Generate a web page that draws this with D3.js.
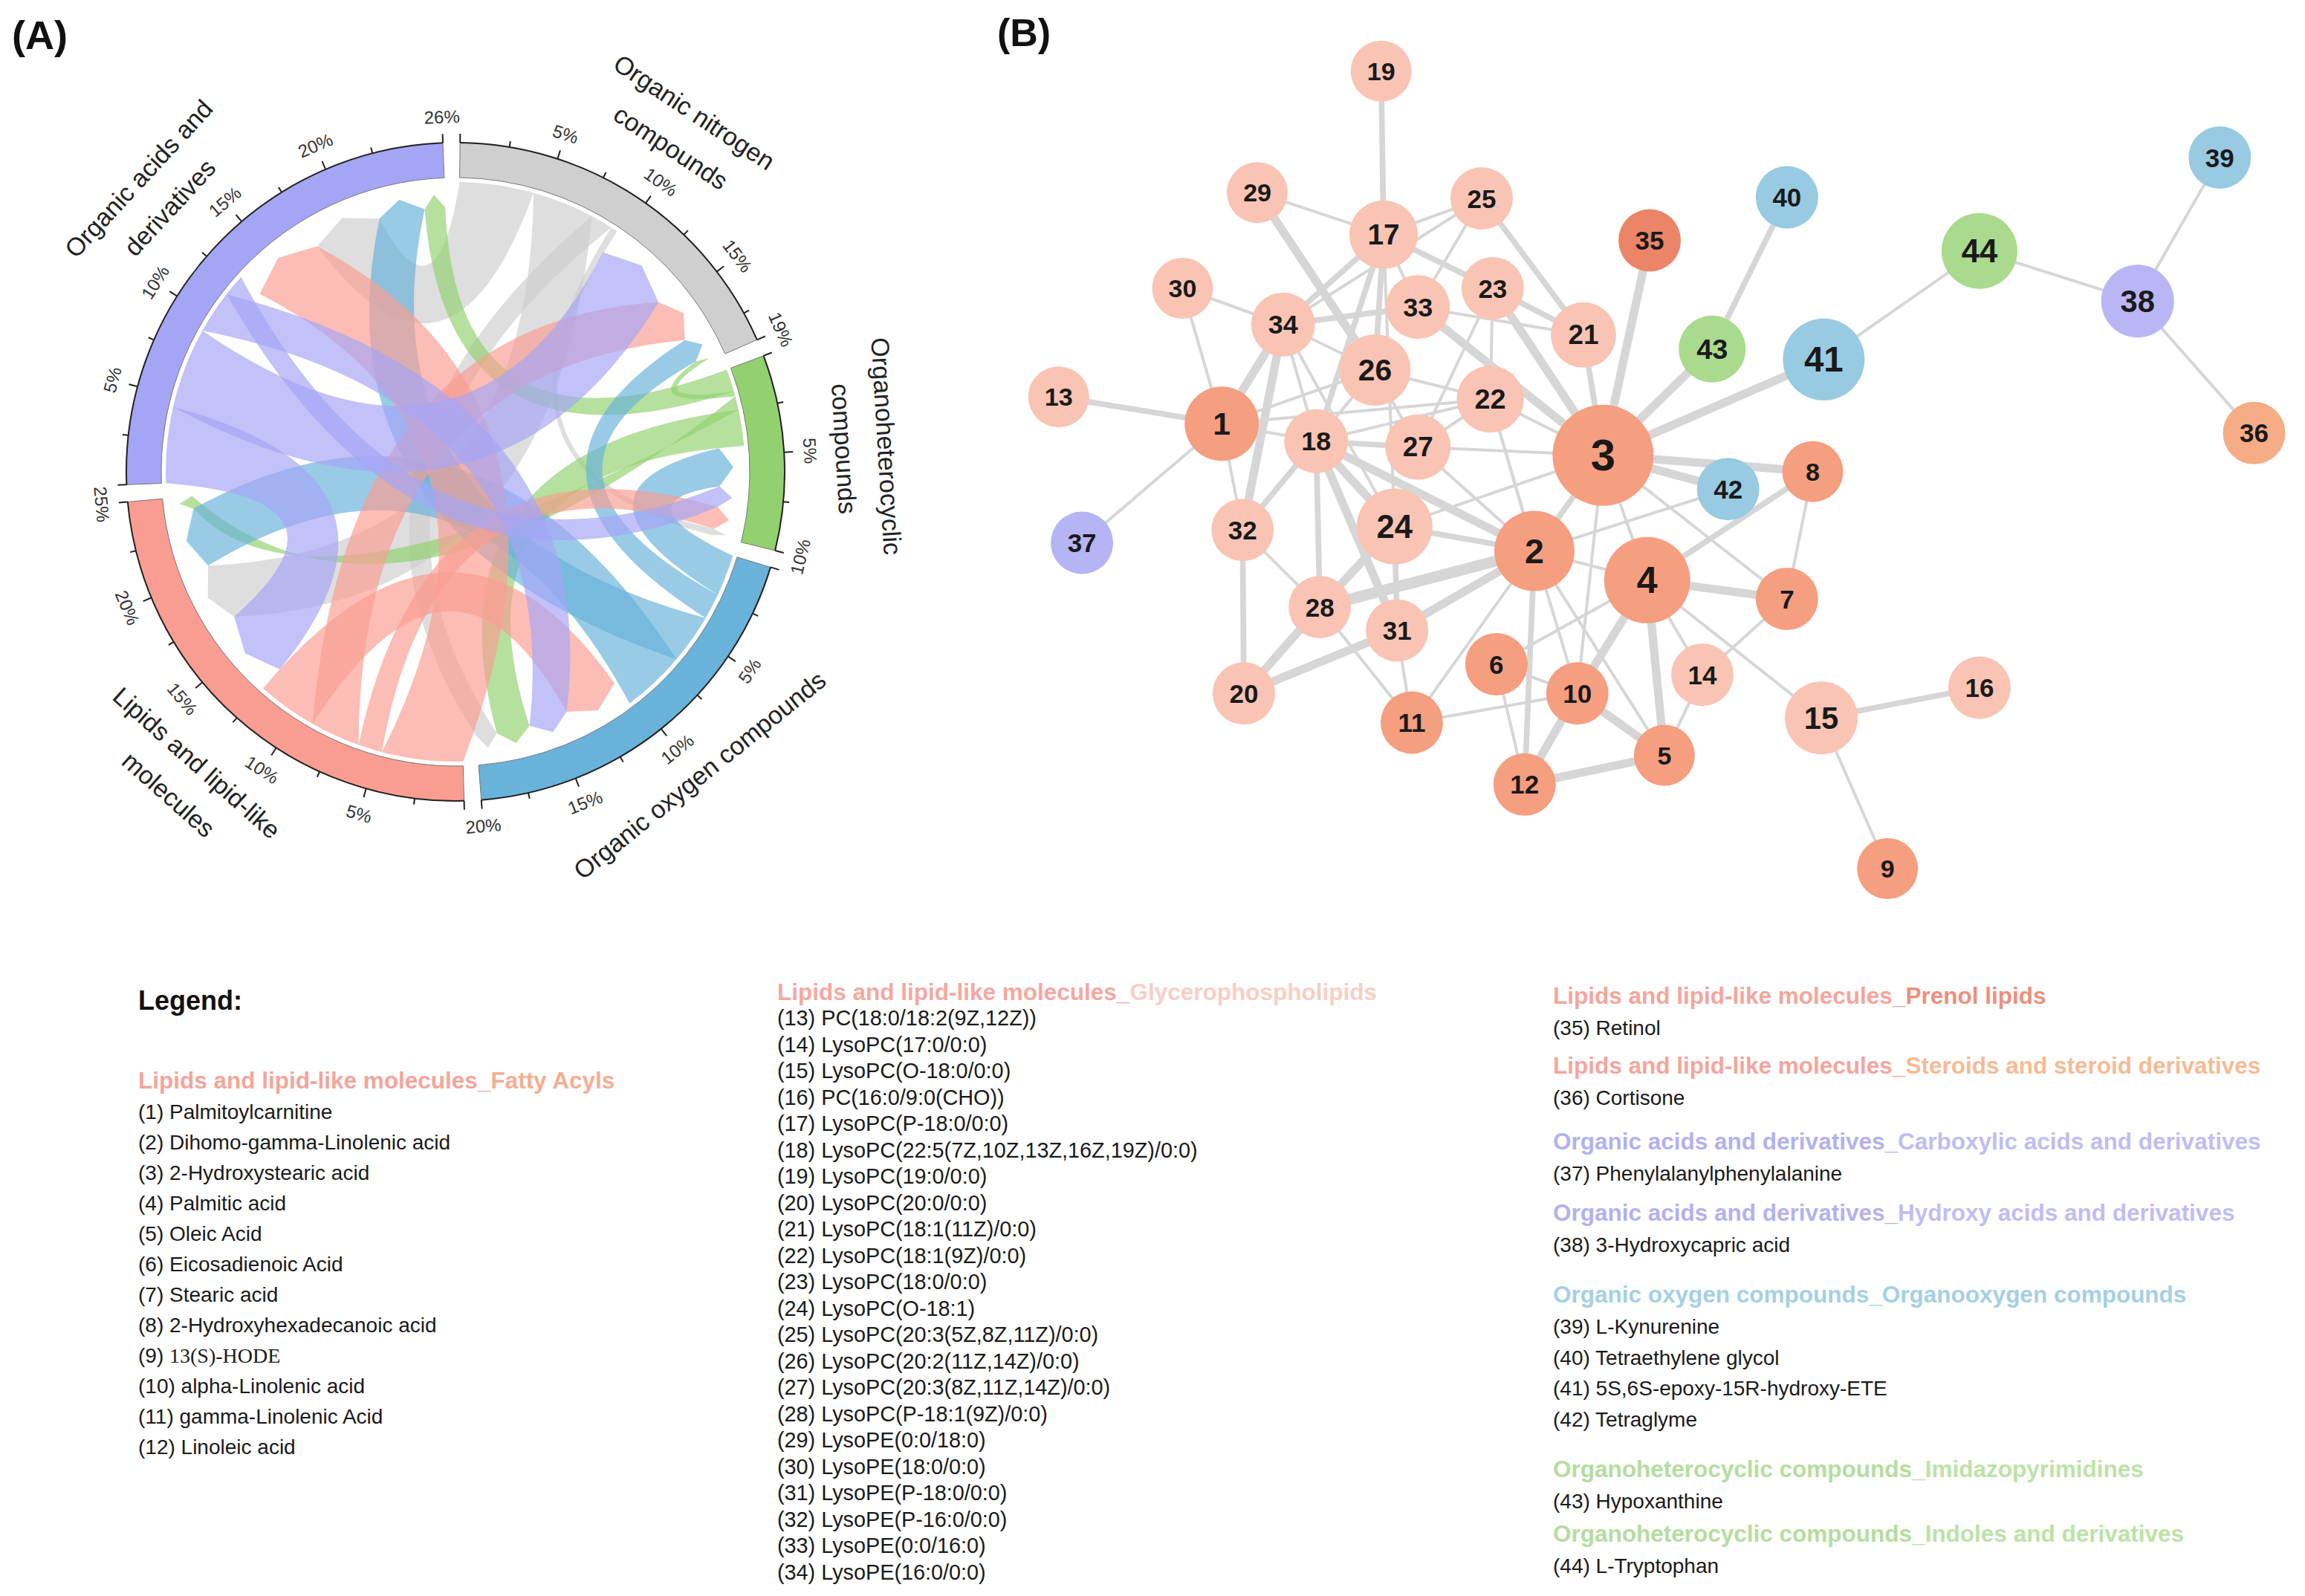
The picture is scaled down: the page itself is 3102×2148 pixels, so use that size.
<!DOCTYPE html>
<html>
<head>
<meta charset="utf-8">
<script src="https://cdn.jsdelivr.net/npm/d3@7/dist/d3.min.js"></script>
<style>
html,body{margin:0;padding:0;background:#ffffff;}
svg{display:block;}
</style>
</head>
<body>
<svg id="fig" width="3102" height="2148" xmlns="http://www.w3.org/2000/svg"></svg>
<script>
// ================= DATA =================
// ---- (A) chord diagram ----
const groupKeys = ["N", "H", "O", "L", "A"];
const groupLabelLines = [
  ["Organic nitrogen", "compounds"],
  ["Organoheterocyclic", "compounds"],
  ["Organic oxygen compounds"],
  ["Lipids and lipid-like", "molecules"],
  ["Organic acids and", "derivatives"]
];
const groupColors = ["#cfcfcf", "#92d16e", "#69b2da", "#f99d92", "#a5a5f6"];
// [source, target, percent]; listed in the order the ribbons leave each sector
const chordLinks = [
  ["N", "A", 4.3], ["N", "L", 3.6], ["N", "O", 1.3], ["N", "H", 0.4],
  ["H", "A", 1.3], ["H", "N", 0.3], ["H", "L", 0.8], ["H", "O", 2.1],
  ["O", "H", 2.4], ["O", "N", 1.5], ["O", "A", 2.9], ["O", "L", 3.7],
  ["L", "A", 4.7], ["L", "H", 1.4], ["L", "N", 2.9], ["L", "O", 3.5],
  ["A", "L", 4.4], ["A", "N", 4.7], ["A", "O", 2.5], ["A", "H", 1.3]
];
// order in which incoming ribbons land on each sector
const incomingOrder = {
  N: ["A", "L", "O", "H"],
  H: ["O", "A", "L", "N"],
  O: ["L", "A", "H", "N"],
  L: ["A", "N", "O", "H"],
  A: ["L", "N", "O", "H"]
};
const majorStep = 5, minorStep = 2.5;

// ---- (B) network ----
const nodeIds = d3.range(1, 45);
const nodeClass = [
  "FA","FA","FA","FA","FA","FA","FA","FA","FA","FA","FA","FA",
  "GP","GP","GP","GP","GP","GP","GP","GP","GP","GP","GP","GP","GP","GP","GP","GP","GP","GP","GP","GP","GP","GP",
  "PR","ST","CA","HA","OO","OO","OO","OO","IM","IN"
];
const nodeLayoutX = [14.8,40.3,45.9,49.5,50.9,37.2,60.9,63.0,69.1,43.8,30.3,39.5,1.5,54.0,63.7,76.6,28.0,22.5,27.8,16.6,44.3,36.7,36.9,28.9,36.0,27.3,30.8,22.8,17.7,11.6,29.1,16.5,30.8,19.8,49.7,99.0,3.4,89.5,96.2,60.9,63.9,56.1,54.8,76.6];
const nodeLayoutY = [31.2,42.1,33.9,44.6,59.6,51.8,46.2,35.3,69.3,54.3,56.8,62.1,28.9,52.7,56.4,53.8,15.0,32.7,1.0,54.3,23.6,29.1,19.6,40.0,11.9,26.6,33.2,46.9,11.4,19.6,48.9,40.3,21.2,22.7,15.5,32.0,41.4,20.7,8.4,11.8,25.7,36.8,24.8,16.4];
const nodeScore = [9,13,27,17,0,1,1,0,0,1,1,1,0,1,8,1,5,2,0,1,3,4,1,10,1,7,3,1,0,0,1,1,2,2,1,1,1,8,1,1,14,1,4,10];
// [node, node, weight]
const edges = [
  [19,17,2],[29,17,1],[29,26,3],[17,25,1],[17,34,2],[17,33,1],[17,26,2],[17,18,2],[17,23,2],[17,24,1],
  [25,34,1],[25,21,2],[25,33,1],[33,3,3],[23,3,3],[23,21,2],[23,22,1],[23,27,1],[21,3,2],[35,3,3],
  [40,43,2],[43,3,3],[41,3,3],[41,44,1],[44,38,1],[38,39,1],[38,36,1],[3,42,3],[3,8,3],[42,2,1],
  [8,4,2],[8,7,1],[3,7,1],[3,4,1],[3,2,2],[3,24,1],[3,27,1],[3,22,1],[4,7,3],[4,5,3],
  [4,10,3],[4,14,1],[4,15,1],[4,6,1],[4,2,1],[7,14,1],[14,5,1],[15,16,2],[15,9,1],[2,24,2],
  [2,28,4],[2,31,3],[2,18,3],[2,10,1],[2,12,2],[2,5,1],[2,11,1],[2,22,1],[10,12,3],[10,5,3],
  [10,11,1],[6,12,1],[6,10,1],[12,5,3],[11,31,1],[11,28,1],[31,20,3],[28,20,3],[32,20,2],[32,28,1],
  [32,1,1],[32,34,3],[32,18,2],[1,13,2],[1,37,1],[1,30,1],[1,34,3],[1,18,1],[1,22,1],[1,26,1],
  [30,34,1],[34,26,1],[34,33,2],[34,18,1],[34,24,1],[18,24,3],[18,28,2],[18,31,3],[18,27,2],[18,26,1],
  [18,22,1],[26,22,1],[26,27,1],[24,28,3],[24,31,2],[27,22,1],[27,2,1],[22,2,1],[33,21,1],[3,10,1]
];

// ---- legend ----
const compoundNames = [
  "Palmitoylcarnitine","Dihomo-gamma-Linolenic acid","2-Hydroxystearic acid","Palmitic acid","Oleic Acid",
  "Eicosadienoic Acid","Stearic acid","2-Hydroxyhexadecanoic acid","13(S)-HODE","alpha-Linolenic acid",
  "gamma-Linolenic Acid","Linoleic acid","PC(18:0/18:2(9Z,12Z))","LysoPC(17:0/0:0)","LysoPC(O-18:0/0:0)",
  "PC(16:0/9:0(CHO))","LysoPC(P-18:0/0:0)","LysoPC(22:5(7Z,10Z,13Z,16Z,19Z)/0:0)","LysoPC(19:0/0:0)","LysoPC(20:0/0:0)",
  "LysoPC(18:1(11Z)/0:0)","LysoPC(18:1(9Z)/0:0)","LysoPC(18:0/0:0)","LysoPC(O-18:1)","LysoPC(20:3(5Z,8Z,11Z)/0:0)",
  "LysoPC(20:2(11Z,14Z)/0:0)","LysoPC(20:3(8Z,11Z,14Z)/0:0)","LysoPC(P-18:1(9Z)/0:0)","LysoPE(0:0/18:0)","LysoPE(18:0/0:0)",
  "LysoPE(P-18:0/0:0)","LysoPE(P-16:0/0:0)","LysoPE(0:0/16:0)","LysoPE(16:0/0:0)","Retinol",
  "Cortisone","Phenylalanylphenylalanine","3-Hydroxycapric acid","L-Kynurenine","Tetraethylene glycol",
  "5S,6S-epoxy-15R-hydroxy-ETE","Tetraglyme","Hypoxanthine","L-Tryptophan"
];
const serifNames = [9];
const classKeys = ["FA","GP","PR","ST","CA","HA","OO","IM","IN"];
const classSuper = ["Lipids and lipid-like molecules_","Lipids and lipid-like molecules_","Lipids and lipid-like molecules_","Lipids and lipid-like molecules_","Organic acids and derivatives_","Organic acids and derivatives_","Organic oxygen compounds_","Organoheterocyclic compounds_","Organoheterocyclic compounds_"];
const classSub = ["Fatty Acyls","Glycerophospholipids","Prenol lipids","Steroids and steroid derivatives","Carboxylic acids and derivatives","Hydroxy acids and derivatives","Organooxygen compounds","Imidazopyrimidines","Indoles and derivatives"];
const classSuperColor = ["#f4a59c","#f4a8a0","#f4a59c","#f4a59c","#b3b1f1","#b3b1f1","#a5d0e5","#b5dd9f","#b5dd9f"];
const classSubColor = ["#f5ad93","#f9cec5","#ee8f7c","#f6bb94","#bfbdf4","#bfbdf4","#a5d0e5","#bde2a8","#bde2a8"];
const classNodeColor = ["#f59e80","#f9c4b3","#ec8468","#f6ac84","#b5b4f5","#bab6f6","#98cae2","#a9da8e","#a9da8e"];
const legendColumns = [["FA"], ["GP"], ["PR","ST","CA","HA","OO","IM","IN"]];

// ================= DRAW =================
const svg = d3.select("#fig");
const FONT = "'Liberation Sans', Arial, Helvetica, sans-serif";
svg.append("rect").attr("width", 3102).attr("height", 2148).attr("fill", "#fff");

// panel labels
svg.append("text").attr("x", 16).attr("y", 66).attr("font-family", FONT).attr("font-weight", "bold")
  .attr("font-size", 54).attr("fill", "#111").text("(A)");
svg.append("text").attr("x", 1342).attr("y", 62).attr("font-family", FONT).attr("font-weight", "bold")
  .attr("font-size", 52).attr("fill", "#111").text("(B)");

// ---------- (A) chord ----------
(function drawChord() {
  const cx = 613, cy = 635;
  const R = {out: 443, inn: 396, link: 390, tgt: 356, tip: 374};
  const gapDeg = 3, startDeg = 0.8;
  const g = svg.append("g").attr("transform", `translate(${cx},${cy})`);

  const totalsRaw = groupKeys.map(k => d3.sum(chordLinks.filter(l => l[0] === k || l[1] === k), l => l[2]));
  const grand = d3.sum(totalsRaw);
  const pct = v => v / grand * 100;
  const totals = totalsRaw.map(pct);
  const degPer = (360 - gapDeg * groupKeys.length) / 100;
  let acc = startDeg;
  const sectors = groupKeys.map((k, i) => {
    const s = acc, e = acc + totals[i] * degPer;
    acc = e + gapDeg;
    return {key: k, i, total: totals[i], startDeg: s, endDeg: e,
      scale: d3.scaleLinear().domain([0, totals[i]]).range([s * Math.PI / 180, e * Math.PI / 180])};
  });

  // positions of link ends
  const links = chordLinks.map(l => ({src: l[0], tgt: l[1], v: pct(l[2])}));
  sectors.forEach(sec => {
    let cur = 0;
    links.filter(l => l.src === sec.key).forEach(l => { l.s0 = sec.scale(cur); cur += l.v; l.s1 = sec.scale(cur); });
    incomingOrder[sec.key].forEach(from => {
      const l = links.find(d => d.src === from && d.tgt === sec.key);
      if (!l) return;
      l.t0 = sec.scale(cur); cur += l.v; l.t1 = sec.scale(cur);
    });
  });

  const pt = (a, r) => [r * Math.sin(a), -r * Math.cos(a)];
  function ctrl(p, q) {
    const mx = (p[0] + q[0]) / 2, my = (p[1] + q[1]) / 2;
    const chord = Math.hypot(p[0] - q[0], p[1] - q[1]);
    const h = 160 * (1 - Math.exp(-chord / 150));
    const m = Math.hypot(mx, my);
    let ux, uy;
    if (m < 1e-6) { ux = -(q[1] - p[1]) / chord; uy = (q[0] - p[0]) / chord; }
    else { ux = mx / m; uy = my / m; }
    return [mx - 2 * h * ux, my - 2 * h * uy];
  }
  function linkPath(l) {
    const p = d3.path();
    const a = pt(l.s0, R.link), b = pt(l.s1, R.link);
    const c = pt(l.t0, R.tgt), d = pt(l.t1, R.tgt), tip = pt((l.t0 + l.t1) / 2, R.tip);
    p.moveTo(a[0], a[1]);
    p.arc(0, 0, R.link, l.s0 - Math.PI / 2, l.s1 - Math.PI / 2, false);
    const c1 = ctrl(b, c);
    p.quadraticCurveTo(c1[0], c1[1], c[0], c[1]);
    p.lineTo(tip[0], tip[1]);
    p.lineTo(d[0], d[1]);
    const c2 = ctrl(d, a);
    p.quadraticCurveTo(c2[0], c2[1], a[0], a[1]);
    p.closePath();
    return p.toString();
  }
  const colorOf = k => groupColors[groupKeys.indexOf(k)];
  g.append("g").selectAll("path").data(links).join("path")
    .attr("d", linkPath)
    .attr("fill", d => colorOf(d.src))
    .attr("fill-opacity", 0.68)
    .attr("stroke", "none");

  // ring
  const arc = d3.arc().innerRadius(R.inn).outerRadius(R.out);
  g.append("g").selectAll("path").data(sectors).join("path")
    .attr("d", s => arc({startAngle: s.scale(0), endAngle: s.scale(s.total)}))
    .attr("fill", s => groupColors[s.i])
    .attr("stroke", "#777").attr("stroke-width", 1);

  // axis
  const ax = g.append("g");
  const rotFor = deg => { const d = ((deg % 360) + 360) % 360; return (d <= 90 || d >= 270) ? d : d - 180; };
  sectors.forEach(sec => {
    const p = d3.path();
    const a0 = sec.scale(0), a1 = sec.scale(sec.total);
    const s0 = pt(a0, R.out);
    p.moveTo(s0[0], s0[1]);
    p.arc(0, 0, R.out, a0 - Math.PI / 2, a1 - Math.PI / 2, false);
    ax.append("path").attr("d", p.toString()).attr("fill", "none").attr("stroke", "#222").attr("stroke-width", 2);
    const ticks = [];
    for (let v = 0; v < sec.total - 1.5; v += minorStep) ticks.push({v, major: v % majorStep === 0, label: v > 0 && v % majorStep === 0 ? `${v}%` : null});
    ticks.push({v: sec.total, major: true, label: `${Math.round(sec.total)}%`});
    ticks.forEach(t => {
      const a = sec.scale(t.v);
      const p1 = pt(a, R.out), p2 = pt(a, R.out + (t.major ? 12 : 8));
      ax.append("line").attr("x1", p1[0]).attr("y1", p1[1]).attr("x2", p2[0]).attr("y2", p2[1])
        .attr("stroke", "#222").attr("stroke-width", 2);
      if (t.label) {
        const q = pt(a, 478);
        ax.append("text").attr("transform", `translate(${q[0]},${q[1]}) rotate(${rotFor(a * 180 / Math.PI)})`)
          .attr("text-anchor", "middle").attr("dominant-baseline", "central")
          .attr("font-family", FONT).attr("font-size", 24).attr("fill", "#333").text(t.label);
      }
    });
    // group label
    const mid = (sec.startDeg + sec.endDeg) / 2;
    const lines = groupLabelLines[sec.i];
    const top = (((mid % 360) + 360) % 360) <= 90 || mid >= 270;
    lines.forEach((txt, i) => {
      const r = top ? 524 + (lines.length - 1 - i) * 57 : 524 + i * 57;
      const q = pt(mid * Math.PI / 180, r);
      ax.append("text").attr("transform", `translate(${q[0]},${q[1]}) rotate(${rotFor(mid)})`)
        .attr("text-anchor", "middle").attr("dominant-baseline", "central")
        .attr("font-family", FONT).attr("font-size", 34).attr("fill", "#222").text(txt);
    });
  });
})();

// ---------- (B) network ----------
(function drawNetwork() {
  const x = d3.scaleLinear().domain([0, 100]).range([1400, 3050]);
  const y = d3.scaleLinear().domain([0, 70]).range([80, 1180]);
  const rScale = d3.scaleLinear().domain([0, 27]).range([41, 68]);
  const fScale = d3.scaleLinear().domain([41, 68]).range([34, 60]);
  const wScale = d3.scaleLinear().domain([1, 4]).range([4, 15]);
  const nodes = nodeIds.map((id, i) => ({id, cls: nodeClass[i], x: x(nodeLayoutX[i]), y: y(nodeLayoutY[i]), r: rScale(nodeScore[i])}));
  const byId = Object.fromEntries(nodes.map(n => [n.id, n]));
  const g = svg.append("g");
  g.append("g").selectAll("line").data(edges).join("line")
    .attr("x1", e => byId[e[0]].x).attr("y1", e => byId[e[0]].y)
    .attr("x2", e => byId[e[1]].x).attr("y2", e => byId[e[1]].y)
    .attr("stroke", "#d6d6d6").attr("stroke-width", e => wScale(e[2])).attr("stroke-linecap", "butt");
  const ng = g.append("g").selectAll("g").data(nodes).join("g")
    .attr("transform", n => `translate(${n.x},${n.y})`);
  ng.append("circle").attr("r", n => n.r).attr("fill", n => classNodeColor[classKeys.indexOf(n.cls)]);
  ng.append("text").attr("text-anchor", "middle").attr("dominant-baseline", "central")
    .attr("font-family", FONT).attr("font-weight", "bold").attr("font-size", n => fScale(n.r))
    .attr("fill", "#1a1a1a").text(n => n.id);
})();

// ---------- legend ----------
(function drawLegend() {
  const g = svg.append("g").attr("font-family", FONT);
  g.append("text").attr("x", 186).attr("y", 1346).attr("dominant-baseline", "central")
    .attr("font-weight", "bold").attr("font-size", 36).attr("fill", "#111").text("Legend:");
  const colX = [186, 1046, 2090];
  const colY0 = [1454, 1335, 1340];
  const headGap = [42, 35, 43];
  const itemStep = [41, 35.5, 41.5];
  const itemFont = [28, 28.8, 28];
  const blockGap = [[0], [0], [51, 59, 53, 67, 67, 44]];
  legendColumns.forEach((blocks, ci) => {
    let yy = colY0[ci];
    blocks.forEach((cls, bi) => {
      const k = classKeys.indexOf(cls);
      const t = g.append("text").attr("x", colX[ci]).attr("y", yy).attr("dominant-baseline", "central")
        .attr("font-weight", "bold").attr("font-size", 31.5);
      t.append("tspan").attr("fill", classSuperColor[k]).text(classSuper[k]);
      t.append("tspan").attr("fill", classSubColor[k]).text(classSub[k]);
      yy += headGap[ci];
      const ids = nodeIds.filter((id, i) => nodeClass[i] === cls);
      ids.forEach((id, j) => {
        const tt = g.append("text").attr("x", colX[ci]).attr("y", yy).attr("dominant-baseline", "central")
          .attr("font-size", itemFont[ci]).attr("fill", "#1a1a1a");
        tt.append("tspan").text(`(${id}) `);
        tt.append("tspan").attr("font-family", serifNames.includes(id) ? "'Liberation Serif', 'Times New Roman', serif" : FONT)
          .text(compoundNames[id - 1]);
        if (j < ids.length - 1) yy += itemStep[ci];
      });
      if (bi < blocks.length - 1) yy += blockGap[ci][bi];
    });
  });
})();
</script>
</body>
</html>
